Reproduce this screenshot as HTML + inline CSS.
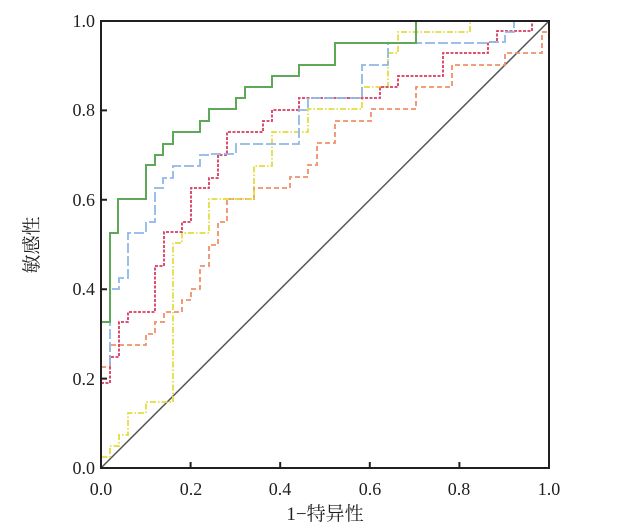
<!DOCTYPE html>
<html><head><meta charset="utf-8"><style>
html,body{margin:0;padding:0;background:#fff;}
text{font-family:"Liberation Serif","Noto Serif CJK SC",serif;font-size:18px;fill:#231f20;}
</style></head><body>
<svg width="622" height="527" viewBox="0 0 622 527" xmlns="http://www.w3.org/2000/svg">
<g fill="none" stroke-width="1.8">
<path d="M101,468 L549,21" stroke="#555" stroke-width="1.5"/>
<path d="M101,367 H110 V345 H146 V334 H155 V322 H164 V312 H182 V300 H191 V289 H200 V266 H209 V245 H218 V222 H227 V199 H254 V188 H290 V177 H308 V165 H317 V143 H335 V121 H371 V109 H416 V87 H452 V65 H505 V53 H542 V32 H549" stroke="#f0906a" stroke-dasharray="5,3"/>
<path d="M101,468 V457 H110 V446 H119 V435 H128 V413 H146 V402 H173 V243 H182 V233 H209 V199 H254 V166 H272 V132 H308 V109 H362 V87 H388 V53 H398 V32 H470 V21" stroke="#e3dc3f" stroke-dasharray="6,2,1.5,2"/>
<path d="M101,383 H110 V357 H119 V322 H128 V312 H155 V266 H164 V232 H182 V222 H191 V188 H209 V178 H218 V155 H227 V132 H263 V121 H272 V110 H299 V98 H380 V87 H398 V76 H443 V53 H488 V42 H497 V31 H532 V21 H549" stroke="#d93a60" stroke-dasharray="3,1.5"/>
<path d="M110,365 V289 H119 V278 H128 V233 H146 V222 H155 V188 H163 V178 H173 V166 H200 V155 H209 V154 H236 V144 H299 V110 H308 V98 H362 V65 H388 V43 H487 V42 H505 V32 H514 V21" stroke="#8fb8e6" stroke-dasharray="10,3"/>
<path d="M101,468 V322 H110 V233 H118 V199 H146 V165 H155 V155 H163 V144 H173 V132 H200 V121 H209 V109 H236 V98 H245 V87 H272 V76 H299 V65 H335 V43 H416 V21" stroke="#5ea85a" stroke-width="2"/>
</g>
<rect x="101" y="21" width="448" height="447" fill="none" stroke="#231f20" stroke-width="2"/>
<g stroke="#231f20" stroke-width="2">
<path d="M101,378.6h6M101,289.2h6M101,199.8h6M101,110.4h6"/>
<path d="M190.6,468v-6M280.2,468v-6M369.8,468v-6M459.4,468v-6"/>
</g>
<g text-anchor="end">
<text x="95" y="474">0.0</text><text x="95" y="385">0.2</text><text x="95" y="295">0.4</text><text x="95" y="206">0.6</text><text x="95" y="116">0.8</text><text x="95" y="27">1.0</text>
</g>
<g text-anchor="middle">
<text x="101" y="495">0.0</text><text x="191" y="495">0.2</text><text x="280" y="495">0.4</text><text x="370" y="495">0.6</text><text x="459" y="495">0.8</text><text x="549" y="495">1.0</text>
<text x="325" y="520" style="font-size:19px">1−特异性</text>
<text x="0" y="0" style="font-size:19px" transform="translate(38,245) rotate(-90)">敏感性</text>
</g>
</svg>
</body></html>
